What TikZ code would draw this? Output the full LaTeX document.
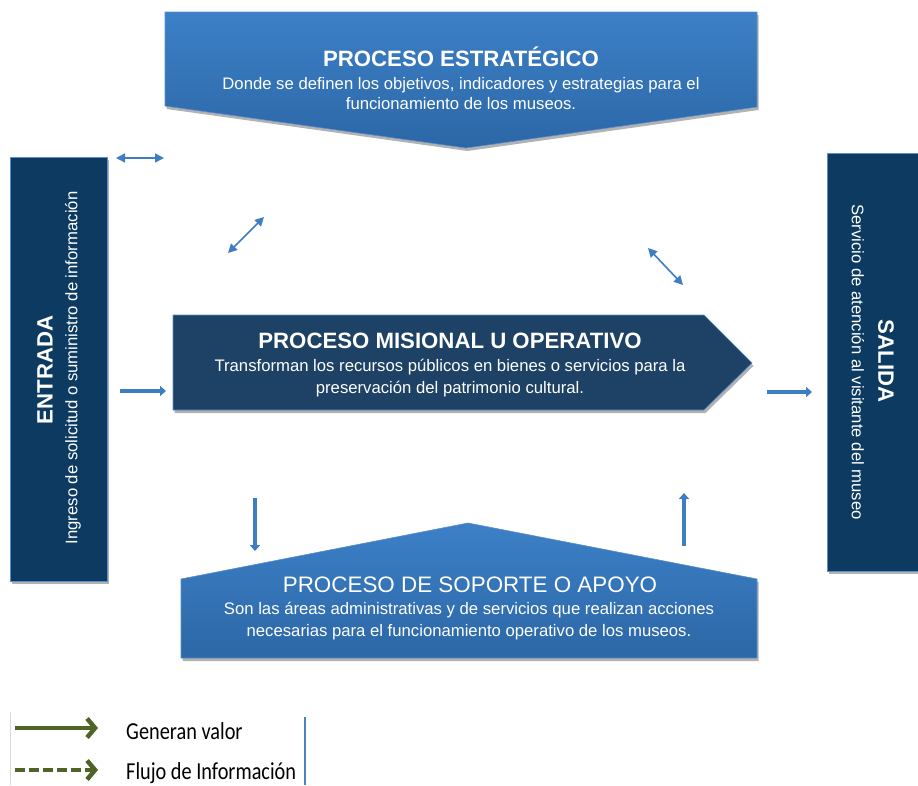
\documentclass[tikz,border=0pt]{standalone}
\usepackage{fontspec}
\setmainfont{Liberation Sans}
\newfontfamily\legendfont{Carlito}
\usetikzlibrary{arrows.meta,shadows}
\definecolor{topA}{HTML}{3C80C7}
\definecolor{topB}{HTML}{2C67A6}
\definecolor{darkbox}{HTML}{0C3A60}
\definecolor{misbox}{HTML}{1D4265}
\definecolor{arrowblue}{HTML}{3E7DC2}
\definecolor{edgeblue}{HTML}{5A8FCC}
\definecolor{legendgreen}{HTML}{4F6228}
\definecolor{legendline}{HTML}{4F81BD}
\begin{document}
\begin{tikzpicture}[x=1pt,y=-1pt,
  boxshadow/.style={drop shadow={shadow xshift=1.5pt,shadow yshift=-3pt,opacity=0.3,fill=black}},
  bluebox/.style={top color=topA,bottom color=topB,draw=edgeblue,line width=0.6pt,boxshadow},
  darkpanel/.style={fill=darkbox,draw=edgeblue,line width=0.8pt,boxshadow},
  titletext/.style={text=white,font=\bfseries\fontsize{22.2}{26}\selectfont,inner sep=0pt},
  plaintitle/.style={text=white,font=\fontsize{22.4}{26}\selectfont,inner sep=0pt},
  desctext/.style={text=white,align=center,font=\fontsize{16.7}{20}\selectfont,inner sep=0pt},
  desctextwide/.style={text=white,align=center,font=\fontsize{16.7}{22.5}\selectfont,inner sep=0pt},
  flow/.style={draw=arrowblue,line width=3.5pt,-{Triangle[length=6pt,width=10pt]}},
  link/.style={draw=arrowblue,line width=1.6pt,{Triangle[length=9pt,width=9pt]}-{Triangle[length=9pt,width=9pt]}},
  legendarrow/.style={draw=legendgreen,line width=4.5pt,-{Straight Barb[length=8pt,width=19pt]}},
  legendtext/.style={anchor=west,inner sep=0pt,font=\legendfont\fontsize{20.3}{24}\selectfont}
]
\useasboundingbox (0,0) rectangle (918,785);

% Proceso estrategico
\path[bluebox] (165,12) -- (757,12) -- (757,107) -- (466,148) -- (165,106) -- cycle;
\node[titletext] (esttitle) at (461,57) {PROCESO ESTRATÉGICO};
\node[desctext] (estdesc) at (461,94) {Donde se definen los objetivos, indicadores y estrategias para el\\funcionamiento de los museos.};

% Entrada
\path[darkpanel] (10,157) rectangle (107,581);
\node[rotate=90,titletext] (entrada) at (45,370) {ENTRADA};
\node[rotate=90,desctext] (entradadesc) at (73,368) {Ingreso de solicitud o suministro de información};

% Salida
\path[darkpanel] (827,153) rectangle (920,571);
\node[rotate=-90,titletext] (salida) at (886,361) {SALIDA};
\node[rotate=-90,desctext] (salidadesc) at (858,362) {Servicio de atención al visitante del museo};

% Proceso misional
\path[fill=misbox,draw=edgeblue,line width=0.6pt,boxshadow] (173,315) -- (704,315) -- (752,363) -- (704,410) -- (173,410) -- cycle;
\node[titletext] (mistitle) at (450,341) {PROCESO MISIONAL U OPERATIVO};
\node[desctextwide] (misdesc) at (450,378) {Transforman los recursos públicos en bienes o servicios para la\\preservación del patrimonio cultural.};

% Proceso de soporte
\path[bluebox] (181,579) -- (468,523) -- (757,579) -- (757,658) -- (181,658) -- cycle;
\node[plaintitle] (soptitle) at (470,585) {PROCESO DE SOPORTE O APOYO};
\node[desctextwide] (sopdesc) at (469,621) {Son las áreas administrativas y de servicios que realizan acciones\\necesarias para el funcionamiento operativo de los museos.};

% Arrow end points
\coordinate (h1a) at (116,158);
\coordinate (h1b) at (164,158);
\coordinate (d1a) at (228,253);
\coordinate (d1b) at (264,217);
\coordinate (d2a) at (648,248);
\coordinate (d2b) at (683,285);
\coordinate (inA) at (120,391);
\coordinate (inB) at (166,391);
\coordinate (outA) at (767,392);
\coordinate (outB) at (812,392);
\coordinate (dnA) at (255,498);
\coordinate (dnB) at (255,551);
\coordinate (upA) at (684,546);
\coordinate (upB) at (684,493);

\draw[link] (h1a) -- (h1b);
\draw[link] (d1a) -- (d1b);
\draw[link] (d2a) -- (d2b);
\draw[flow] (inA) -- (inB);
\draw[flow] (outA) -- (outB);
\draw[flow] (dnA) -- (dnB);
\draw[flow] (upA) -- (upB);

% Legend
\coordinate (l1a) at (15,728);
\coordinate (l1b) at (98,728);
\coordinate (l2a) at (15,770);
\coordinate (l2b) at (98,770);
\draw[black!15,line width=0.8pt] (10,712) -- (10,785);
\draw[legendarrow] (l1a) -- (l1b);
\draw[legendarrow,dash pattern=on 10pt off 4pt] (l2a) -- (l2b);
\node[legendtext] (leg1) at (126,731) {\scalebox{1}[1.2]{Generan valor}};
\node[legendtext] (leg2) at (126,773) {\scalebox{1}[1.2]{Flujo de Información}};
\draw[legendline,line width=1.5pt] (305,717) -- (305,785);
\end{tikzpicture}
\end{document}
